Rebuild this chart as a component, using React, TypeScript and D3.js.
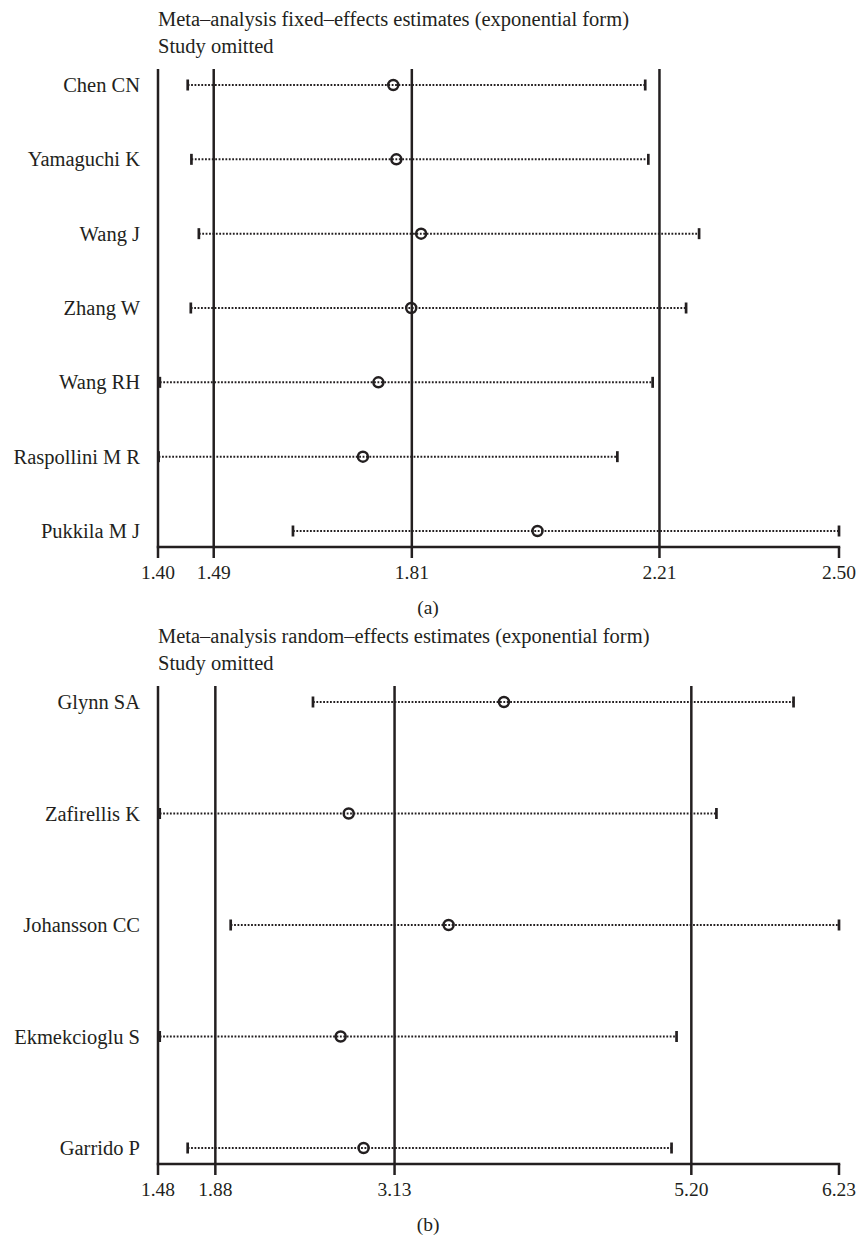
import React from "react";
import * as d3 from "d3";

// Panel (a): fixed-effects, one study omitted at a time
const fixedStudies = ["Chen CN", "Yamaguchi K", "Wang J", "Zhang W", "Wang RH", "Raspollini M R", "Pukkila M J"];
const fixedEstimate = [1.780, 1.785, 1.825, 1.809, 1.756, 1.731, 2.013];
const fixedLower = [1.448, 1.454, 1.466, 1.453, 1.403, 1.401, 1.618];
const fixedUpper = [2.187, 2.192, 2.274, 2.253, 2.199, 2.142, 2.50];
const fixedTicks = [1.40, 1.49, 1.81, 2.21, 2.50];
const fixedRefLines = [1.49, 1.81, 2.21];

// Panel (b): random-effects, one study omitted at a time
const randomStudies = ["Glynn SA", "Zafirellis K", "Johansson CC", "Ekmekcioglu S", "Garrido P"];
const randomEstimate = [3.893, 2.810, 3.507, 2.754, 2.914];
const randomLower = [2.561, 1.492, 1.987, 1.492, 1.687];
const randomUpper = [5.913, 5.375, 6.23, 5.097, 5.062];
const randomTicks = [1.48, 1.88, 3.13, 5.20, 6.23];
const randomRefLines = [1.88, 3.13, 5.20];

const INK = "#231f20";
const FONT = "'Liberation Serif', 'DejaVu Serif', serif";

type PanelProps = {
  title: string;
  letter: string;
  studies: string[];
  est: number[];
  lo: number[];
  hi: number[];
  ticks: number[];
  refs: number[];
  top: number;
};

function Panel({ title, letter, studies, est, lo, hi, ticks, refs, top }: PanelProps) {
  const left = 158;
  const right = 839;
  const plotTop = top + 69;
  const axisY = top + 547;
  const tickLen = 11;

  const x = d3.scaleLinear().domain([ticks[0], ticks[ticks.length - 1]]).range([left, right]);
  const y = d3.scalePoint<string>().domain(studies).range([plotTop + 16, axisY - 16]).padding(0);

  return (
    <g fontFamily={FONT} fill={INK}>
      <text x={left} y={top + 26} fontSize={20.5}>{title}</text>
      <text x={left} y={top + 53} fontSize={20.5}>Study omitted</text>

      {/* y axis */}
      <line x1={x(ticks[0])} x2={x(ticks[0])} y1={plotTop} y2={axisY + tickLen} stroke={INK} strokeWidth={2.5} />
      {/* reference lines for the overall estimate and its CI */}
      {refs.map((r) => (
        <line key={r} x1={x(r)} x2={x(r)} y1={plotTop} y2={axisY + tickLen} stroke={INK} strokeWidth={2.5} />
      ))}
      {/* x axis */}
      <line x1={left - 1.25} x2={right + 1.25} y1={axisY} y2={axisY} stroke={INK} strokeWidth={2.5} />
      <line x1={x(ticks[ticks.length - 1])} x2={x(ticks[ticks.length - 1])} y1={axisY} y2={axisY + tickLen} stroke={INK} strokeWidth={2.5} />
      {ticks.map((t) => (
        <text key={t} x={x(t)} y={axisY + 32} fontSize={19.5} textAnchor="middle">{t.toFixed(2)}</text>
      ))}
      <text x={428} y={axisY + 67} fontSize={19.5} textAnchor="middle">({letter})</text>

      {studies.map((s, i) => {
        const yy = y(s) as number;
        return (
          <g key={s}>
            <text x={140} y={yy + 7} fontSize={20.5} textAnchor="end">{s}</text>
            <line x1={x(lo[i])} x2={x(hi[i])} y1={yy} y2={yy} stroke={INK} strokeWidth={2} strokeDasharray="1.8 1.6" />
            <line x1={x(lo[i])} x2={x(lo[i])} y1={yy - 5.5} y2={yy + 5.5} stroke={INK} strokeWidth={2.7} />
            <line x1={x(hi[i])} x2={x(hi[i])} y1={yy - 5.5} y2={yy + 5.5} stroke={INK} strokeWidth={2.7} />
            <circle cx={x(est[i])} cy={yy} r={5} fill="none" stroke={INK} strokeWidth={2.5} />
          </g>
        );
      })}
    </g>
  );
}

export default function App() {
  return (
    <svg width={857} height={1256} style={{ position: "absolute", left: 0, top: 0, background: "#fff" }}>
      <rect width={857} height={1256} fill="#fff" />
      <Panel
        title="Meta–analysis fixed–effects estimates (exponential form)"
        letter="a"
        studies={fixedStudies}
        est={fixedEstimate}
        lo={fixedLower}
        hi={fixedUpper}
        ticks={fixedTicks}
        refs={fixedRefLines}
        top={0}
      />
      <Panel
        title="Meta–analysis random–effects estimates (exponential form)"
        letter="b"
        studies={randomStudies}
        est={randomEstimate}
        lo={randomLower}
        hi={randomUpper}
        ticks={randomTicks}
        refs={randomRefLines}
        top={617}
      />
    </svg>
  );
}
